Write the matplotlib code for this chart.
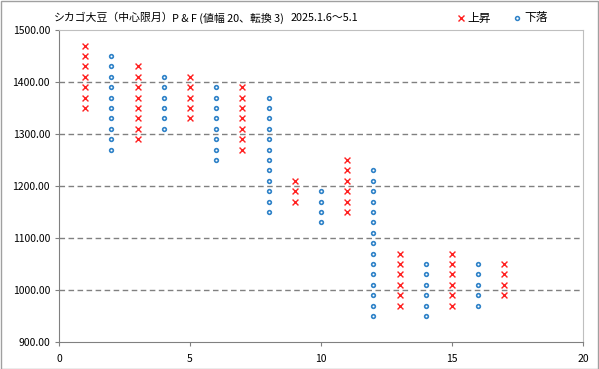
import numpy as np
import matplotlib.pyplot as plt
from matplotlib.patches import Rectangle
from matplotlib.lines import Line2D

plt.rcParams['font.family'] = ['Noto Sans CJK JP', 'DejaVu Sans']

# P&F columns: (column number, kind, low, high), box size 20
cols = [1, 2, 3, 4, 5, 6, 7, 8, 9, 10, 11, 12, 13, 14, 15, 16, 17]
kinds = ['X', 'O', 'X', 'O', 'X', 'O', 'X', 'O', 'X', 'O', 'X', 'O', 'X', 'O', 'X', 'O', 'X']
lows = [1350, 1270, 1290, 1310, 1330, 1250, 1270, 1150, 1170, 1130, 1150, 950, 970, 950, 970, 970, 990]
highs = [1470, 1450, 1430, 1410, 1410, 1390, 1390, 1370, 1210, 1190, 1250, 1230, 1070, 1050, 1070, 1050, 1050]
box = 20

title1 = 'シカゴ大豆（中心限月）'
title2 = 'P & F (値幅 20、転換 3)'
title3 = '2025.1.6～5.1'

xs_up, ys_up, xs_dn, ys_dn = [], [], [], []
for c, k, lo, hi in zip(cols, kinds, lows, highs):
    vals = np.arange(lo, hi + 1, box)
    if k == 'X':
        xs_up += [c] * len(vals)
        ys_up += list(vals)
    else:
        xs_dn += [c] * len(vals)
        ys_dn += list(vals)

W, H = 599, 369
fig = plt.figure(figsize=(W/100, H/100), dpi=100)
ax = fig.add_axes([59/W, 27/H, 524/W, 312/H])

red = '#FF2020'
blue = '#2F82C8'
ax.scatter(xs_up, ys_up, marker='x', color=red, s=18, linewidths=1.0, zorder=3)
ax.scatter(xs_dn, ys_dn, marker='o', facecolor='white', edgecolor=blue, s=7, linewidths=1.2, zorder=3)

ax.set_xlim(0, 20)
ax.set_ylim(900, 1500)
ax.set_xticks([0, 5, 10, 15, 20])
ax.set_yticks(np.arange(900, 1501, 100))
ax.set_yticklabels(['%.2f' % v for v in np.arange(900, 1501, 100)])
ax.tick_params(axis='both', labelsize=7.5, length=3, color='#808080', direction='out')
ax.tick_params(axis='x', pad=6)

for v in [1000, 1100, 1200, 1300, 1400]:
    ax.axhline(v, color='#808080', linestyle=(0, (4, 2.5)), linewidth=1, zorder=1)

for s in ['top', 'right']:
    ax.spines[s].set_color('#BFBFBF')
for s in ['left', 'bottom']:
    ax.spines[s].set_color('#808080')

ty = 1 - 18/H
fig.text(54/W, ty, title1, fontsize=7.8, va='center', ha='left')
fig.text(172/W, ty, title2, fontsize=7.8, va='center', ha='left')
fig.text(291/W, ty, title3, fontsize=7.8, va='center', ha='left')

fig.add_artist(Line2D([461/W], [ty], marker='x', ms=4.5, mew=1.0, color=red, linestyle='none'))
fig.text(467/W, ty, '上昇', fontsize=8.5, va='center', ha='left')
fig.add_artist(Line2D([517/W], [ty], marker='o', ms=2.8, mfc='white', mec=blue, mew=1.1, linestyle='none'))
fig.text(524/W, ty, '下落', fontsize=8.5, va='center', ha='left')

fig.patches.append(Rectangle((0.001, 0.001), 0.997, 0.996, transform=fig.transFigure,
                             fill=False, edgecolor='#A0A0A0', linewidth=1))

plt.savefig('out.png', dpi=100)
